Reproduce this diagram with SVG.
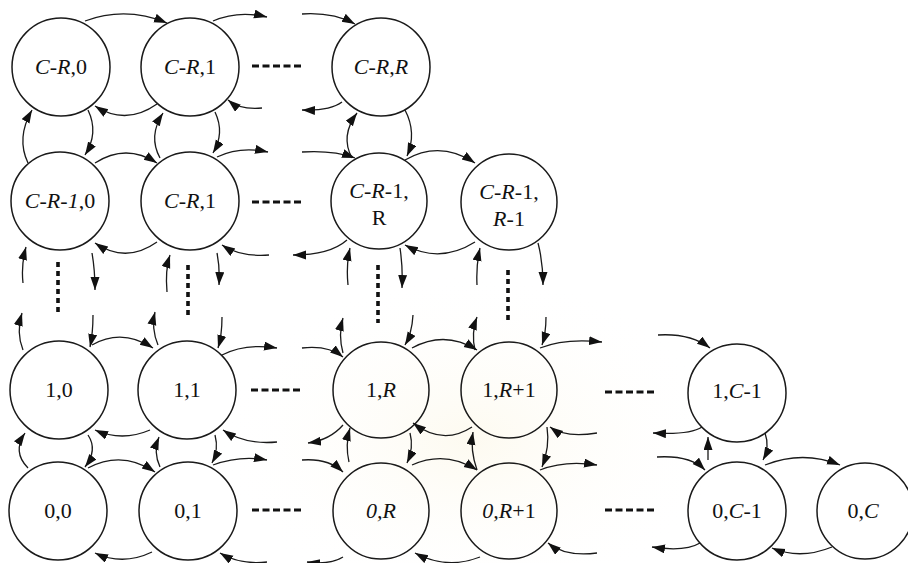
<svg xmlns="http://www.w3.org/2000/svg" width="908" height="563" viewBox="0 0 908 563">
  <style>
    .node circle { fill: none; stroke: #1a1a1a; stroke-width: 1.5; }
    .lbl { font-family: "Liberation Serif", "Times New Roman", serif; font-size: 22px; text-anchor: middle; fill: #111; }
    .it { font-style: italic; }
    .arc { fill: none; stroke: #1a1a1a; stroke-width: 1.3; marker-end: url(#head); }
    .hdots { fill: none; stroke: #111; stroke-width: 3.2; stroke-dasharray: 7 3.5; }
    .vdots { fill: none; stroke: #111; stroke-width: 3.6; stroke-dasharray: 5 4; }
  </style>
  <defs>
    <marker id="head" markerUnits="userSpaceOnUse" markerWidth="14" markerHeight="10" refX="13" refY="4.5" orient="auto">
      <path d="M0,0 L13,4.5 L0,9 z" fill="#111"/>
    </marker>
    <radialGradient id="tint" cx="0.5" cy="0.5" r="0.5">
      <stop offset="0" stop-color="#fcf7e6" stop-opacity="0.6"/>
      <stop offset="1" stop-color="#ffffff" stop-opacity="0"/>
    </radialGradient>
  </defs>

  <rect width="908" height="563" fill="#ffffff"/>
  <ellipse cx="470" cy="440" rx="260" ry="170" fill="url(#tint)"/>

  <!-- states -->
  <g id="n-CR-0" class="node"><circle cx="61" cy="67" r="49"/><text class="lbl" x="61" y="74"><tspan class="it">C</tspan>-<tspan class="it">R</tspan>,0</text></g>
  <g id="n-CR-1" class="node"><circle cx="190" cy="67" r="49"/><text class="lbl" x="190" y="74"><tspan class="it">C</tspan>-<tspan class="it">R</tspan>,1</text></g>
  <g id="n-CR-R" class="node"><circle cx="381" cy="67" r="49"/><text class="lbl" x="381" y="74"><tspan class="it">C</tspan>-<tspan class="it">R</tspan>,<tspan class="it">R</tspan></text></g>

  <g id="n-CR1-0" class="node"><circle cx="60" cy="201" r="49"/><text class="lbl" x="60" y="208"><tspan class="it">C</tspan>-<tspan class="it">R</tspan>-<tspan class="it">1</tspan>,0</text></g>
  <g id="n-CR1-1" class="node"><circle cx="190" cy="201" r="49"/><text class="lbl" x="190" y="208"><tspan class="it">C</tspan>-<tspan class="it">R</tspan>,1</text></g>
  <g id="n-CR1-R" class="node"><circle cx="379" cy="201" r="48"/><text class="lbl" x="379" y="198"><tspan class="it">C</tspan>-<tspan class="it">R</tspan>-1,</text><text class="lbl" x="379" y="225">R</text></g>
  <g id="n-CR1-R1" class="node"><circle cx="509" cy="202" r="48"/><text class="lbl" x="509" y="199"><tspan class="it">C</tspan>-<tspan class="it">R</tspan>-1,</text><text class="lbl" x="509" y="226"><tspan class="it">R</tspan>-1</text></g>

  <g id="n-1-0" class="node"><circle cx="59" cy="390" r="49"/><text class="lbl" x="59" y="397">1,0</text></g>
  <g id="n-1-1" class="node"><circle cx="187" cy="390" r="49"/><text class="lbl" x="187" y="397">1,1</text></g>
  <g id="n-1-R" class="node"><circle cx="381" cy="390" r="48"/><text class="lbl" x="381" y="397">1,<tspan class="it">R</tspan></text></g>
  <g id="n-1-R1" class="node"><circle cx="509" cy="390" r="48"/><text class="lbl" x="509" y="397">1,<tspan class="it">R</tspan>+1</text></g>
  <g id="n-1-C1" class="node"><circle cx="737" cy="393" r="49"/><text class="lbl" x="737" y="398">1,<tspan class="it">C</tspan>-1</text></g>

  <g id="n-0-0" class="node"><circle cx="58" cy="511" r="49"/><text class="lbl" x="58" y="518">0,0</text></g>
  <g id="n-0-1" class="node"><circle cx="188" cy="511" r="49"/><text class="lbl" x="188" y="518">0,1</text></g>
  <g id="n-0-R" class="node"><circle cx="381" cy="511" r="48"/><text class="lbl" x="381" y="518"><tspan class="it">0,R</tspan></text></g>
  <g id="n-0-R1" class="node"><circle cx="509" cy="511" r="48"/><text class="lbl" x="509" y="518"><tspan class="it">0,R</tspan>+1</text></g>
  <g id="n-0-C1" class="node"><circle cx="737" cy="511" r="49"/><text class="lbl" x="737" y="518">0,<tspan class="it">C</tspan>-1</text></g>
  <g id="n-0-C" class="node"><circle cx="865" cy="511" r="48"/><text class="lbl" x="863" y="518">0,<tspan class="it">C</tspan></text></g>

  <!-- transitions -->
  <g id="connectors">
    <!-- top row -->
    <path class="arc" d="M85,21 Q126,6 167,23"/>
    <path class="arc" d="M157,104 Q126,126 95,106"/>
    <path class="arc" d="M213,21 Q238,10 267,17"/>
    <path class="arc" d="M302,14 Q333,12 355,24"/>
    <path class="arc" d="M262,108 Q240,110 228,100"/>
    <path class="arc" d="M342,102 Q330,111 302,110"/>
    <!-- top row to second row -->
    <path class="arc" d="M28,163 Q16,138 32,110"/>
    <path class="arc" d="M88,110 Q99,133 85,155"/>
    <path class="arc" d="M160,158 Q148,136 163,113"/>
    <path class="arc" d="M215,112 Q225,133 213,153"/>
    <path class="arc" d="M352,158 Q340,136 357,113"/>
    <path class="arc" d="M405,110 Q417,133 407,156"/>
    <!-- second row -->
    <path class="arc" d="M95,163 Q126,143 157,163"/>
    <path class="arc" d="M157,242 Q126,264 95,243"/>
    <path class="arc" d="M217,157 Q240,146 268,152"/>
    <path class="arc" d="M269,255 Q240,257 222,245"/>
    <path class="arc" d="M302,152 Q333,150 355,158"/>
    <path class="arc" d="M347,240 Q330,255 293,255"/>
    <path class="arc" d="M405,160 Q440,140 475,163"/>
    <path class="arc" d="M475,242 Q440,264 405,245"/>
    <!-- broken verticals between second row and row 1 -->
    <path class="arc" d="M23,283 Q21,265 26,247"/>
    <path class="arc" d="M23,350 Q16,333 22,313"/>
    <path class="arc" d="M92,253 Q95,270 95,290"/>
    <path class="arc" d="M93,315 Q93,333 90,347"/>
    <path class="arc" d="M167,292 Q165,270 170,255"/>
    <path class="arc" d="M158,345 Q151,328 155,312"/>
    <path class="arc" d="M217,253 Q220,268 219,285"/>
    <path class="arc" d="M222,317 Q222,335 218,348"/>
    <path class="arc" d="M348,285 Q346,265 350,248"/>
    <path class="arc" d="M343,353 Q338,335 343,318"/>
    <path class="arc" d="M400,248 Q403,268 402,288"/>
    <path class="arc" d="M413,315 Q412,333 405,345"/>
    <path class="arc" d="M477,285 Q476,265 480,248"/>
    <path class="arc" d="M475,350 Q471,333 477,317"/>
    <path class="arc" d="M538,243 Q543,262 543,285"/>
    <path class="arc" d="M546,317 Q546,333 542,345"/>
    <!-- row 1 -->
    <path class="arc" d="M92,345 Q122,328 153,348"/>
    <path class="arc" d="M150,430 Q122,442 95,430"/>
    <path class="arc" d="M222,355 Q245,343 277,348"/>
    <path class="arc" d="M302,348 Q328,345 343,357"/>
    <path class="arc" d="M412,348 Q445,330 477,350"/>
    <path class="arc" d="M540,348 Q565,338 602,342"/>
    <path class="arc" d="M658,335 Q690,333 710,348"/>
    <path class="arc" d="M277,442 Q245,445 223,430"/>
    <path class="arc" d="M343,425 Q330,440 308,443"/>
    <path class="arc" d="M472,427 Q443,446 413,423"/>
    <path class="arc" d="M597,433 Q565,438 550,427"/>
    <path class="arc" d="M702,427 Q690,435 653,433"/>
    <!-- row 1 to row 0 -->
    <path class="arc" d="M28,468 Q12,452 25,433"/>
    <path class="arc" d="M88,435 Q98,450 85,467"/>
    <path class="arc" d="M160,467 Q153,452 159,437"/>
    <path class="arc" d="M215,435 Q219,450 212,463"/>
    <path class="arc" d="M349,462 Q345,445 350,428"/>
    <path class="arc" d="M410,433 Q414,448 407,463"/>
    <path class="arc" d="M477,470 Q470,450 473,432"/>
    <path class="arc" d="M547,427 Q550,447 542,467"/>
    <path class="arc" d="M708,460 L708,437"/>
    <path class="arc" d="M765,433 Q770,447 763,460"/>
    <!-- row 0 -->
    <path class="arc" d="M88,468 Q122,450 155,472"/>
    <path class="arc" d="M152,552 Q123,566 95,553"/>
    <path class="arc" d="M213,465 Q240,455 267,460"/>
    <path class="arc" d="M302,460 Q328,458 343,472"/>
    <path class="arc" d="M267,562 Q240,565 220,553"/>
    <path class="arc" d="M343,557 Q330,565 307,562"/>
    <path class="arc" d="M412,465 Q445,450 477,470"/>
    <path class="arc" d="M480,557 Q447,570 415,553"/>
    <path class="arc" d="M540,470 Q565,460 597,465"/>
    <path class="arc" d="M597,553 Q565,557 548,543"/>
    <path class="arc" d="M657,457 Q690,455 705,470"/>
    <path class="arc" d="M700,543 Q685,552 652,547"/>
    <path class="arc" d="M765,465 Q803,450 840,465"/>
    <path class="arc" d="M832,547 Q800,560 772,548"/>
    <!-- elided states -->
    <path class="hdots" d="M252,66 H303"/>
    <path class="hdots" d="M252,202 H303"/>
    <path class="hdots" d="M251,390 H303"/>
    <path class="hdots" d="M605,392 H657"/>
    <path class="hdots" d="M252,510 H303"/>
    <path class="hdots" d="M605,510 H657"/>
    <path class="vdots" d="M58,262 V315"/>
    <path class="vdots" d="M188,265 V318"/>
    <path class="vdots" d="M378,265 V323"/>
    <path class="vdots" d="M508,270 V323"/>
  </g>
</svg>
